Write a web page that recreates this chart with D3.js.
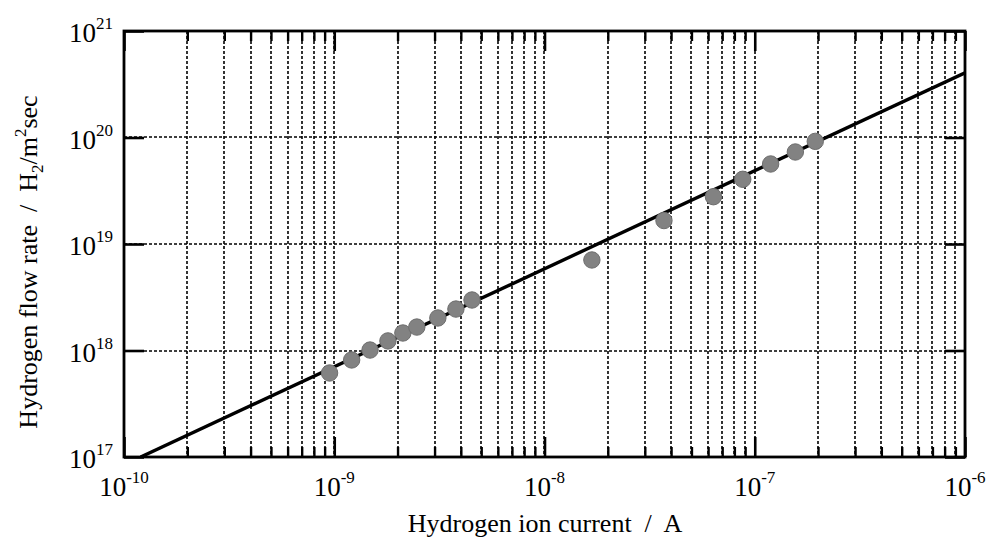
<!DOCTYPE html>
<html><head><meta charset="utf-8">
<script src="https://cdn.jsdelivr.net/npm/d3@7"></script>
<style>body{margin:0;background:#fff}svg{display:block}</style>
</head><body>
<script>
const currentA = [9.5e-10,1.21e-9,1.48e-9,1.80e-9,2.12e-9,2.47e-9,3.11e-9,3.79e-9,4.52e-9,1.68e-8,3.70e-8,6.36e-8,8.77e-8,1.19e-7,1.56e-7,1.94e-7];
const flowRate = [6.15e17,8.15e17,1.01e18,1.23e18,1.46e18,1.66e18,2.02e18,2.45e18,2.98e18,7.08e18,1.66e19,2.78e19,4.05e19,5.64e19,7.31e19,9.2e19];
const fitX = [1.2e-10, 1e-6];
const fitY = [1e17, 4.05e20];
const xDecades = [-10,-9,-8,-7,-6];
const yDecades = [17,18,19,20,21];
const xTitle = "Hydrogen ion current  /  A";

const W=988,H=539, L=124,T=31,R=965,B=457;
const svg=d3.select("body").append("svg").attr("width",W).attr("height",H);
const x=d3.scaleLog().domain([1e-10,1e-6]).range([L,R]);
const y=d3.scaleLog().domain([1e17,1e21]).range([B,T]);

const minorX=[];
for(let d=-10; d<-6; d++) for(let k=2;k<=9;k++) minorX.push(k*Math.pow(10,d));
const majorX=xDecades.map(e=>Math.pow(10,e));
const majorY=yDecades.map(e=>Math.pow(10,e));

// grid
const g=svg.append("g");
g.selectAll(".vg").data(minorX.concat(majorX.slice(1,-1))).join("line")
 .attr("x1",d=>Math.round(x(d))).attr("x2",d=>Math.round(x(d))).attr("y1",T).attr("y2",B)
 .attr("stroke","#000").attr("stroke-width",1.6).attr("stroke-dasharray","3,2");
g.selectAll(".hg").data(majorY.slice(1,-1)).join("line")
 .attr("y1",d=>Math.round(y(d))).attr("y2",d=>Math.round(y(d))).attr("x1",L).attr("x2",R)
 .attr("stroke","#000").attr("stroke-width",1.6).attr("stroke-dasharray","3,2");

// axes ticks (inward)
function styleAxis(sel,w){sel.selectAll("path").remove();sel.selectAll("line").attr("stroke","#000").attr("stroke-width",w);sel.selectAll("text").remove();}
svg.append("g").attr("transform",`translate(0,${B})`).call(d3.axisBottom(x).tickValues(minorX).tickSize(-10)).call(s=>styleAxis(s,2.4));
svg.append("g").attr("transform",`translate(0,${T})`).call(d3.axisTop(x).tickValues(minorX).tickSize(-10)).call(s=>styleAxis(s,2.4));
svg.append("g").attr("transform",`translate(0,${B})`).call(d3.axisBottom(x).tickValues(majorX).tickSize(-20)).call(s=>styleAxis(s,2.6));
svg.append("g").attr("transform",`translate(0,${T})`).call(d3.axisTop(x).tickValues(majorX).tickSize(-20)).call(s=>styleAxis(s,2.6));
svg.append("g").attr("transform",`translate(${L},0)`).call(d3.axisLeft(y).tickValues(majorY).tickSize(-20)).call(s=>styleAxis(s,2.6));
svg.append("g").attr("transform",`translate(${R},0)`).call(d3.axisRight(y).tickValues(majorY).tickSize(-20)).call(s=>styleAxis(s,2.6));

// frame
svg.append("rect").attr("x",L).attr("y",T).attr("width",R-L).attr("height",B-T)
 .attr("fill","none").attr("stroke","#000").attr("stroke-width",2.8);

// clip
svg.append("clipPath").attr("id","clip").append("rect").attr("x",L).attr("y",T).attr("width",R-L).attr("height",B-T);

// fit line
svg.append("path").attr("clip-path","url(#clip)")
 .attr("d",d3.line().x(d=>x(d[0])).y(d=>y(d[1]))(fitX.map((v,i)=>[v,fitY[i]])))
 .attr("stroke","#000").attr("stroke-width",3.4).attr("fill","none");

// points
svg.selectAll(".pt").data(currentA.map((v,i)=>[v,flowRate[i]])).join("circle")
 .attr("cx",d=>x(d[0])).attr("cy",d=>y(d[1])).attr("r",8.2)
 .attr("fill","#828282").attr("stroke","#6e6e6e").attr("stroke-width",1);

const font="'Liberation Serif','Times New Roman',serif";
// x labels
xDecades.forEach(e=>{
  const t=svg.append("text").attr("x",x(Math.pow(10,e))).attr("y",496).attr("text-anchor","middle")
   .attr("font-family",font).attr("font-size",27).attr("fill","#000");
  t.append("tspan").text("10");
  t.append("tspan").attr("dy",-13).attr("font-size",17).text(String(e));
});
// y labels
yDecades.forEach(e=>{
  const t=svg.append("text").attr("x",113).attr("y",y(Math.pow(10,e))+11).attr("text-anchor","end")
   .attr("font-family",font).attr("font-size",27).attr("fill","#000");
  t.append("tspan").text("10");
  t.append("tspan").attr("dy",-13).attr("font-size",17).text(String(e));
});
// titles
svg.append("text").attr("x",545).attr("y",532).attr("text-anchor","middle")
 .attr("font-family",font).attr("font-size",26).attr("fill","#000").style("white-space","pre").text(xTitle);
const yt=svg.append("text").attr("transform",`translate(37,262) rotate(-90)`).attr("text-anchor","middle")
 .attr("font-family",font).attr("font-size",26).attr("fill","#000").style("white-space","pre");
yt.append("tspan").text("Hydrogen flow rate  /  H");
yt.append("tspan").attr("dy",6).attr("font-size",17).text("2");
yt.append("tspan").attr("dy",-6).text("/m");
yt.append("tspan").attr("dy",-11).attr("font-size",17).text("2");
yt.append("tspan").attr("dy",11).text("sec");
</script>
</body></html>
